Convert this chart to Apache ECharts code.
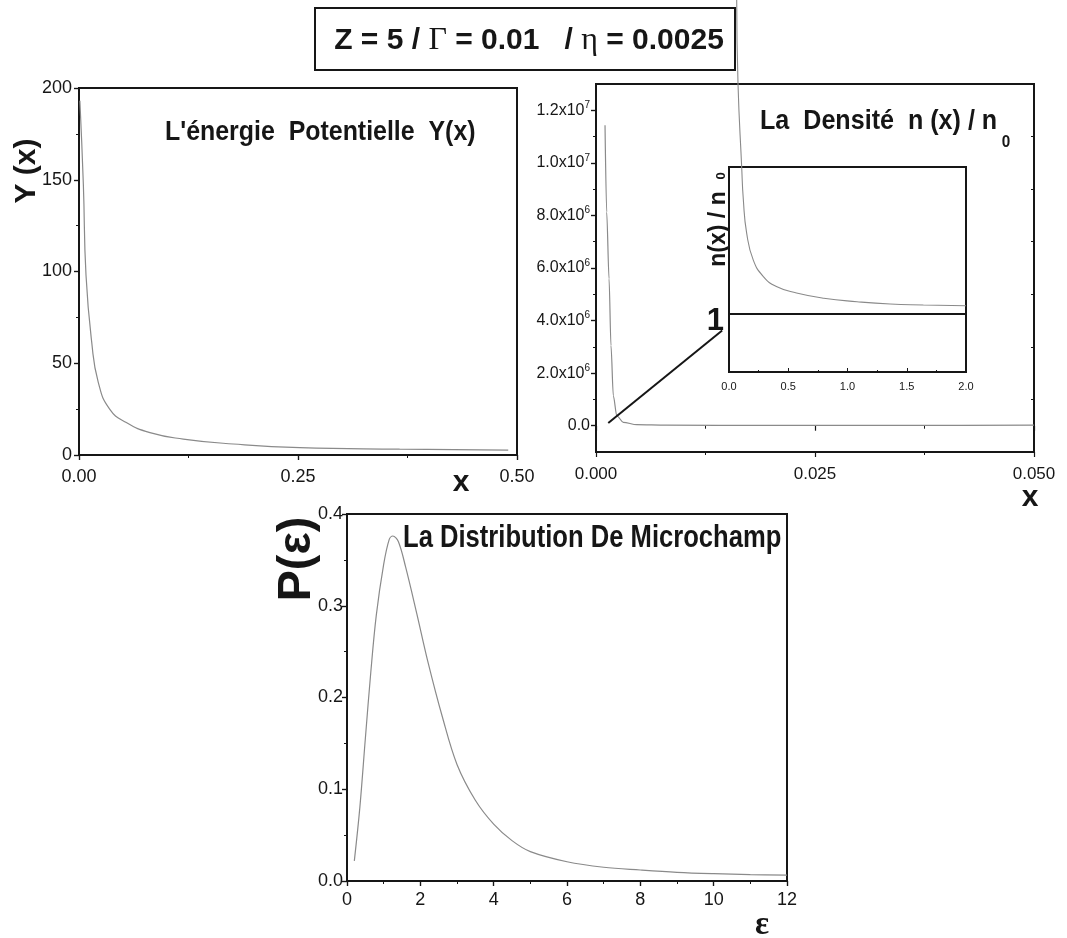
<!DOCTYPE html>
<html>
<head>
<meta charset="utf-8">
<script src="https://cdn.jsdelivr.net/npm/echarts@6/dist/echarts.min.js"></script>
<style>
  html, body { margin: 0; padding: 0; background: #fff; }
  #main { width: 1067px; height: 938px; }
</style>
</head>
<body>
<div id="main"></div>
<script>
// Potential energy Y(x)
const potentialX = [0.001, 0.005, 0.008, 0.0145, 0.022, 0.035, 0.054, 0.081, 0.119, 0.176, 0.252, 0.366, 0.49];
const potentialY = [193, 147, 98, 61.5, 39.6, 25, 17.7, 12.2, 8.7, 6.0, 4.0, 3.2, 2.7];

// Density n(x)/n0, wide view
const densityX = [0.00103, 0.00122, 0.00149, 0.00171, 0.00198, 0.00237, 0.00312, 0.00465, 0.008, 0.02, 0.035, 0.05];
const densityY = [11.43e6, 8.13e6, 5.59e6, 3.05e6, 1.14e6, 0.38e6, 0.13e6, 0.04e6, 0.02e6, 0.01e6, 0.01e6, 0.02e6];

// Density n(x)/n0, close view (inset)
const insetX = [0.065, 0.076, 0.107, 0.121, 0.149, 0.205, 0.29, 0.40, 0.57, 0.80, 1.08, 1.36, 1.64, 2.0];
const insetY = [6.35, 4.92, 3.5, 2.94, 2.37, 1.91, 1.63, 1.46, 1.35, 1.26, 1.20, 1.16, 1.145, 1.13];
const insetReference = 1;

// Pointer from the wide view to the inset, in wide-view data units
const pointerFrom = [0.0014, 0.1e6];
const pointerTo = [0.0144, 3.62e6];

// Microfield distribution P(eps)
const fieldEps = [0.2, 0.35, 0.5, 0.65, 0.8, 1.0, 1.15, 1.25, 1.4, 1.6, 1.9, 2.2, 2.6, 3.0, 3.5, 4.0, 4.5, 5.0, 6.0, 7.0, 8.0, 9.0, 10.0, 11.0, 12.0];
const fieldP = [0.022, 0.08, 0.155, 0.228, 0.29, 0.345, 0.372, 0.376, 0.370, 0.342, 0.292, 0.24, 0.179, 0.127, 0.088, 0.062, 0.044, 0.032, 0.021, 0.015, 0.012, 0.0095, 0.008, 0.007, 0.0065];

// Density axis ticks
const densityTicks = [0, 2e6, 4e6, 6e6, 8e6, 1e7, 1.2e7];
const densityTickText = ['0.0', '2.0x10{s|6}', '4.0x10{s|6}', '6.0x10{s|6}', '8.0x10{s|6}', '1.0x10{s|7}', '1.2x10{s|7}'];
const densityMinorTicks = [1e6, 3e6, 5e6, 7e6, 9e6, 1.1e7];

const SANS = "'Liberation Sans', Arial, sans-serif";
const SERIF = "'Liberation Serif', 'Times New Roman', serif";
const INK = '#161616';
const CURVE = '#8a8a8a';

const zip = (xs, ys) => xs.map((x, i) => [x, ys[i]]);

function baseAxis(extra) {
  return Object.assign({
    type: 'value',
    splitLine: { show: false },
    axisLine: { show: true, onZero: false, lineStyle: { color: INK, width: 2 } },
    axisTick: { show: true, inside: false, length: 5, lineStyle: { color: INK, width: 1.2 } },
    minorTick: { show: true, splitNumber: 2, length: 3, lineStyle: { color: INK, width: 1 } },
    axisLabel: { color: INK, fontFamily: SANS, fontSize: 18 }
  }, extra);
}
function mirrorAxis(extra) {
  return Object.assign({
    type: 'value',
    splitLine: { show: false },
    axisLine: { show: false },
    axisTick: { show: true, inside: true, length: 5, lineStyle: { color: INK, width: 1.2 } },
    minorTick: { show: true, splitNumber: 2, length: 3, lineStyle: { color: INK, width: 1 } },
    axisLabel: { show: false }
  }, extra);
}
// condensed bold caption drawn with a horizontal squeeze
function caption(text, x, y, size, squeeze, align, extra) {
  return Object.assign({
    type: 'text', x: x, y: y, z: 11, scaleX: squeeze, scaleY: 1,
    style: { text: text, fontFamily: SANS, fontWeight: 'bold', fontSize: size, fill: INK,
      align: align || 'left', verticalAlign: 'middle' }
  }, extra || {});
}

const chart = echarts.init(document.getElementById('main'), null, { renderer: 'canvas' });

const frame = { show: true, borderColor: INK, borderWidth: 2, backgroundColor: 'transparent' };

chart.setOption({
  animation: false,
  backgroundColor: '#fff',
  grid: [
    Object.assign({ left: 79, top: 88, width: 438, height: 367 }, frame),
    Object.assign({ left: 596, top: 84, width: 438, height: 368 }, frame),
    Object.assign({ left: 729, top: 167, width: 237, height: 205 }, frame),
    Object.assign({ left: 347, top: 514, width: 440, height: 367 }, frame)
  ],
  xAxis: [
    baseAxis({ gridIndex: 0, position: 'bottom', min: 0, max: 0.5, interval: 0.25,
      axisLabel: { color: INK, fontFamily: SANS, fontSize: 18, margin: 13, formatter: v => v.toFixed(2) } }),
    mirrorAxis({ gridIndex: 0, position: 'top', min: 0, max: 0.5, interval: 0.25 }),
    baseAxis({ gridIndex: 1, position: 'bottom', min: 0, max: 0.05, interval: 0.025,
      axisLabel: { color: INK, fontFamily: SANS, fontSize: 17, margin: 14, formatter: v => v.toFixed(3) } }),
    mirrorAxis({ gridIndex: 1, position: 'top', min: 0, max: 0.05, interval: 0.025 }),
    baseAxis({ gridIndex: 2, position: 'bottom', min: 0, max: 2, interval: 0.5,
      axisTick: { show: true, inside: true, length: 4, lineStyle: { color: INK, width: 1 } },
      minorTick: { show: true, inside: true, splitNumber: 2, length: 2, lineStyle: { color: INK, width: 1 } },
      axisLabel: { color: INK, fontFamily: SANS, fontSize: 11, margin: 9, formatter: v => v.toFixed(1) } }),
    baseAxis({ gridIndex: 3, position: 'bottom', min: 0, max: 12, interval: 2,
      axisLabel: { color: INK, fontFamily: SANS, fontSize: 18, margin: 10 } }),
    mirrorAxis({ gridIndex: 3, position: 'top', min: 0, max: 12, interval: 2 })
  ],
  yAxis: [
    baseAxis({ gridIndex: 0, position: 'left', min: 0, max: 200, interval: 50,
      axisLabel: { color: INK, fontFamily: SANS, fontSize: 18, margin: 7 } }),
    mirrorAxis({ gridIndex: 0, position: 'right', min: 0, max: 200, interval: 50 }),
    baseAxis({ gridIndex: 1, position: 'left', min: -1e6, max: 1.3e7,
      minorTick: { show: false },
      axisTick: { show: true, length: 5, customValues: densityTicks, lineStyle: { color: INK, width: 1.2 } },
      axisLabel: {
        color: INK, fontFamily: SANS, fontSize: 16, margin: 6, customValues: densityTicks,
        formatter: v => {
          const i = densityTicks.findIndex(t => Math.abs(t - v) < 1);
          return i >= 0 ? densityTickText[i] : '';
        },
        rich: { s: { fontFamily: SANS, fontSize: 10, color: INK, verticalAlign: 'top', lineHeight: 20 } }
      } }),
    mirrorAxis({ gridIndex: 1, position: 'left', min: -1e6, max: 1.3e7, minorTick: { show: false },
      axisTick: { show: true, inside: false, length: 3, customValues: densityMinorTicks, lineStyle: { color: INK, width: 1 } } }),
    mirrorAxis({ gridIndex: 1, position: 'right', min: -1e6, max: 1.3e7, minorTick: { show: false },
      axisTick: { show: true, inside: true, length: 5, customValues: densityTicks, lineStyle: { color: INK, width: 1.2 } } }),
    mirrorAxis({ gridIndex: 1, position: 'right', min: -1e6, max: 1.3e7, minorTick: { show: false },
      axisTick: { show: true, inside: true, length: 3, customValues: densityMinorTicks, lineStyle: { color: INK, width: 1 } } }),
    baseAxis({ gridIndex: 2, position: 'left', min: 0, max: 3.5,
      minorTick: { show: false },
      axisTick: { show: false },
      axisLabel: { show: true, customValues: [insetReference], color: INK, fontFamily: SANS, fontWeight: 'bold',
        fontSize: 31, margin: 5, verticalAlign: 'top', lineHeight: 16 } }),
    baseAxis({ gridIndex: 3, position: 'left', min: 0, max: 0.4, interval: 0.1,
      axisLabel: { color: INK, fontFamily: SANS, fontSize: 18, margin: 4, formatter: v => v.toFixed(1) } }),
    mirrorAxis({ gridIndex: 3, position: 'right', min: 0, max: 0.4, interval: 0.1 })
  ],
  series: [
    {
      name: 'Y(x)', type: 'line', xAxisIndex: 0, yAxisIndex: 0,
      data: zip(potentialX, potentialY), showSymbol: false, symbol: 'none',
      smooth: 0.5,
      lineStyle: { color: CURVE, width: 1.2 }
    },
    {
      name: 'n(x)/n0', type: 'line', xAxisIndex: 2, yAxisIndex: 2,
      data: zip(densityX, densityY), showSymbol: false, symbol: 'none',
      smooth: 0.3, smoothMonotone: 'x',
      lineStyle: { color: CURVE, width: 1.2 },
      markLine: {
        silent: true, symbol: ['none', 'none'],
        label: { show: false },
        lineStyle: { color: INK, width: 2, type: 'solid' },
        data: [[{ coord: pointerFrom }, { coord: pointerTo }]]
      }
    },
    {
      name: 'n(x)/n0 detail', type: 'line', xAxisIndex: 4, yAxisIndex: 6,
      data: zip(insetX, insetY), showSymbol: false, symbol: 'none', clip: false,
      smooth: 0.5,
      lineStyle: { color: CURVE, width: 1.1 },
      markLine: {
        silent: true, symbol: ['none', 'none'],
        label: { show: false },
        lineStyle: { color: INK, width: 2, type: 'solid' },
        data: [{ yAxis: insetReference }]
      }
    },
    {
      name: 'P(eps)', type: 'line', xAxisIndex: 5, yAxisIndex: 7,
      data: zip(fieldEps, fieldP), showSymbol: false, symbol: 'none',
      smooth: 0.35,
      lineStyle: { color: CURVE, width: 1.2 }
    }
  ],
  graphic: [
    // parameter box
    { type: 'rect', shape: { x: 315, y: 8, width: 420, height: 62 },
      style: { fill: '#fff', stroke: INK, lineWidth: 2 }, z: 10 },
    { type: 'text', x: 529, y: 41, z: 11,
      style: {
        text: '{b|Z = 5 / }{g|\u0393}{b| = 0.01   / }{g|\u03b7}{b| = 0.0025}',
        align: 'center', verticalAlign: 'middle',
        rich: {
          b: { fontFamily: SANS, fontWeight: 'bold', fontSize: 30, fill: INK },
          g: { fontFamily: SERIF, fontSize: 32, fill: INK }
        }
      } },
    // panel captions
    caption("L'\u00e9nergie  Potentielle  Y(x)", 165, 132, 28, 0.89),
    caption('La  Densit\u00e9  n (x) / n', 760, 122, 27, 0.93),
    caption('0', 1006, 142, 17, 0.9, 'center'),
    caption('La Distribution De Microchamp', 403, 538, 32, 0.8),
    // axis titles
    { type: 'text', x: 27, y: 171, rotation: Math.PI / 2, z: 11,
      style: { text: 'Y (x)', fontFamily: SANS, fontWeight: 'bold', fontSize: 30, fill: INK,
        align: 'center', verticalAlign: 'middle' } },
    { type: 'text', x: 461, y: 483, z: 11,
      style: { text: 'x', fontFamily: SANS, fontWeight: 'bold', fontSize: 30, fill: INK,
        align: 'center', verticalAlign: 'middle' } },
    { type: 'text', x: 1030, y: 498, z: 11,
      style: { text: 'x', fontFamily: SANS, fontWeight: 'bold', fontSize: 30, fill: INK,
        align: 'center', verticalAlign: 'middle' } },
    { type: 'text', x: 719, y: 229, rotation: Math.PI / 2, z: 11,
      style: { text: 'n(x) / n', fontFamily: SANS, fontWeight: 'bold', fontSize: 23, fill: INK,
        align: 'center', verticalAlign: 'middle' } },
    { type: 'text', x: 721, y: 176, rotation: Math.PI / 2, z: 11,
      style: { text: '0', fontFamily: SANS, fontWeight: 'bold', fontSize: 13, fill: INK,
        align: 'center', verticalAlign: 'middle' } },
    { type: 'text', x: 297, y: 559, rotation: Math.PI / 2, z: 11,
      style: { text: 'P(\u03b5)', fontFamily: SANS, fontWeight: 'bold', fontSize: 47, fill: INK,
        align: 'center', verticalAlign: 'middle' } },
    { type: 'text', x: 762, y: 925, z: 11,
      style: { text: '\u03b5', fontFamily: SERIF, fontWeight: 'bold', fontSize: 33, fill: INK,
        align: 'center', verticalAlign: 'middle' } }
  ]
});
</script>
</body>
</html>
